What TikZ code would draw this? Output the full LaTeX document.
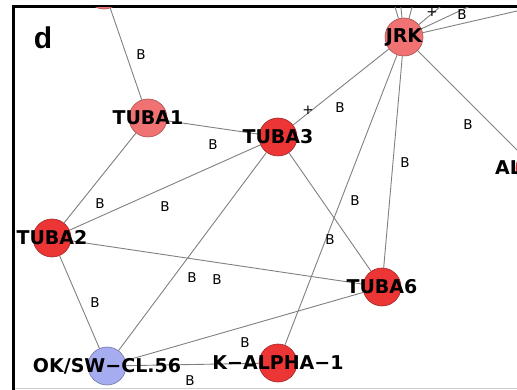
\documentclass[tikz,border=0pt]{standalone}
\usepackage{fontspec}
\setmainfont{DejaVu Sans}
\newfontfamily\panelfont{Liberation Sans}
\usepackage{tikz}

\definecolor{genepink}{RGB}{240,114,114}
\definecolor{genered}{RGB}{236,54,54}
\definecolor{geneblue}{RGB}{166,172,240}
\definecolor{linkgray}{RGB}{128,128,128}

\begin{document}
\begin{tikzpicture}[x=1pt, y=-1pt,
    gene/.style={circle, minimum size=38pt, inner sep=0pt, draw=#1!70!black, line width=0.6pt, fill=#1},
    genename/.style={font=\bfseries\fontsize{19}{19}\selectfont, inner sep=0pt},
    link/.style={draw=linkgray, line width=0.9pt},
    elab/.style={font=\fontsize{13.5}{13.5}\selectfont, inner sep=0pt}]
    \useasboundingbox (0,0) rectangle (517,390);

    % Panel letter and frame
    \node[font=\panelfont\bfseries\fontsize{30}{30}\selectfont, inner sep=0pt] (panel) at (43,38) {d};
    \draw[line width=3pt] (13.5,390) -- (13.5,6.5) -- (517,6.5);
    \draw[black!20, line width=0.8pt] (15,388.5) -- (517,388.5);

    \begin{scope}
    \clip (15,8) rectangle (517,388);

    % Genes
    \node[gene=genepink] (top) at (104,-10) {};
    \node[gene=genepink] (tuba1) at (148,118) {};
    \node[gene=genered]  (tuba3) at (278,137) {};
    \node[gene=genepink] (jrk) at (404,37) {};
    \node[gene=genered]  (tuba2) at (52,238) {};
    \node[gene=genered]  (tuba6) at (382,287) {};
    \node[gene=geneblue] (okcl) at (107,366) {};
    \node[gene=genered]  (kalpha) at (278,363) {};
    \node[gene=genered]  (al) at (535,168) {};

    % Partners of JRK outside the panel
    \coordinate (jn1) at (384,-30);
    \coordinate (jn2) at (397,-30);
    \coordinate (jn3) at (422,-30);
    \coordinate (jn4) at (484,-30);
    \coordinate (jn5) at (547,-30);
    \coordinate (jn6) at (695,-30);

    % Interactions
    \draw[link] (tuba1) -- (top);
    \draw[link] (tuba1) -- (tuba3);
    \draw[link] (tuba1) -- (tuba2);
    \draw[link] (tuba3) -- (tuba2);
    \draw[link] (tuba3) -- (jrk);
    \draw[link] (tuba3) -- (okcl);
    \draw[link] (tuba3) -- (tuba6);
    \draw[link] (tuba2) -- (tuba6);
    \draw[link] (tuba2) -- (okcl);
    \draw[link] (okcl) -- (tuba6);
    \draw[link] (okcl) -- (kalpha);
    \draw[link] (jrk) -- (kalpha);
    \draw[link] (jrk) -- (tuba6);
    \draw[link] (jrk) -- (al);
    \foreach \n in {jn1,jn2,jn3,jn4,jn5,jn6} \draw[link] (jrk) -- (\n);

    % Gene names
    \node[genename] (tuba1-l) at (tuba1) {TUBA1};
    \node[genename] (tuba3-l) at (tuba3) {TUBA3};
    \node[genename] (jrk-l) at (jrk) {JRK};
    \node[genename] (tuba2-l) at (tuba2) {TUBA2};
    \node[genename] (tuba6-l) at (tuba6) {TUBA6};
    \node[genename] (okcl-l) at (okcl) {OK/SW−CL.56};
    \node[genename] (kalpha-l) at (kalpha) {K−ALPHA−1};
    \node[genename, anchor=west] (al-l) at (495,168) {AL};

    % Edge labels
    \foreach \x/\y [count=\i] in {141/55, 213/145, 340/108, 468/125, 405/163,
        100/204, 165/207, 355/201, 330/240, 192/278, 217/280,
        95/303, 245/343, 190/381, 462/15}
        \node[elab] (b\i) at (\x,\y) {B};
    \node[elab] (plus1) at (308,110) {+};
    \node[elab] (plus2) at (432,12) {+};
    \end{scope}
\end{tikzpicture}
\end{document}
